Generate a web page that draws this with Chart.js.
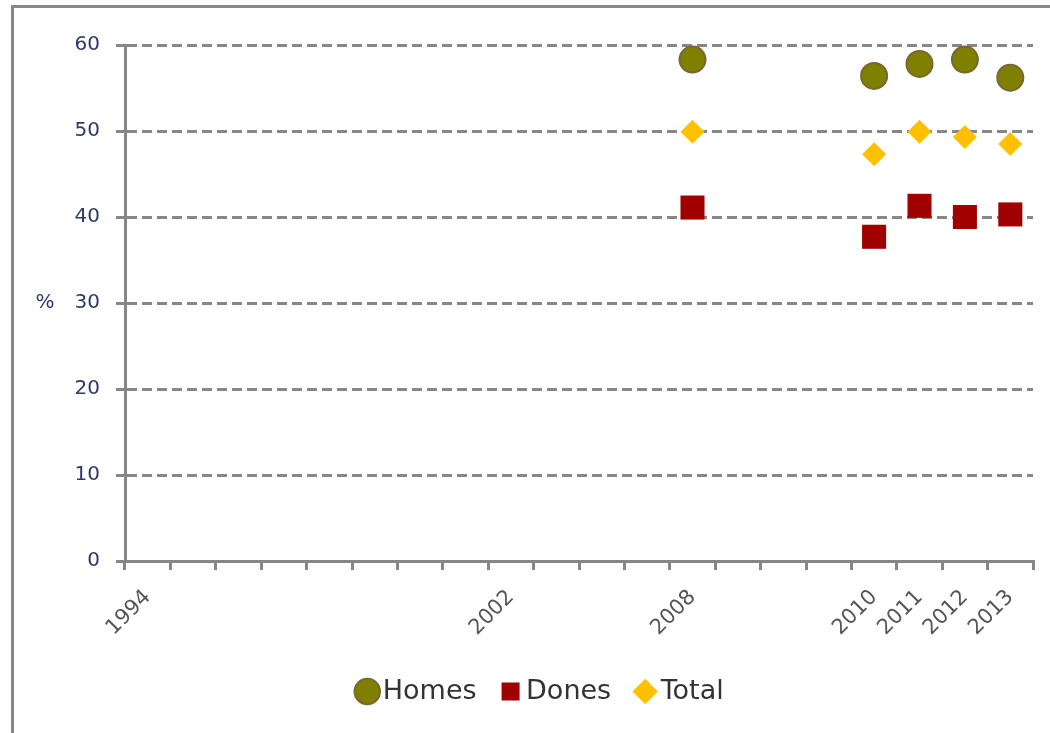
<!DOCTYPE html>
<html>
<head>
<meta charset="utf-8">
<script src="https://cdn.jsdelivr.net/npm/chart.js@4/dist/chart.umd.min.js"></script>
<style>
  html, body { margin: 0; padding: 0; background: #fff; overflow: hidden; }
  #wrap { position: relative; width: 1050px; height: 733px; }
  #frame { position: absolute; left: 11px; top: 5px; width: 1100px; height: 800px; border: 3px solid #888; box-sizing: border-box; }
  canvas { position: absolute; left: 0; top: 0; }
</style>
</head>
<body>
<div id="wrap">
  <div id="frame"></div>
  <canvas id="chart" width="1050" height="733"></canvas>
</div>
<script>
// categories (20 slots, only some labelled)
const years = ['1994', '', '', '', '', '', '', '', '2002', '', '', '', '2008', '', '', '', '2010', '2011', '2012', '2013'];

// series values (%), null where no survey
const homes = [null, null, null, null, null, null, null, null, null, null, null, null, 58.3, null, null, null, 56.4, 57.8, 58.3, 56.2];
const dones = [null, null, null, null, null, null, null, null, null, null, null, null, 41.1, null, null, null, 37.7, 41.3, 40.0, 40.3];
const total = [null, null, null, null, null, null, null, null, null, null, null, null, 49.9, null, null, null, 47.3, 49.9, 49.3, 48.5];

const yTicks = [0, 10, 20, 30, 40, 50, 60];

const gray = '#878787';
const textFont = 'DejaVu Sans';

// "%" label to the left of the value axis, horizontal
const unitLabel = {
  id: 'unitLabel',
  afterDraw(chart) {
    const { ctx, chartArea } = chart;
    ctx.save();
    ctx.font = '20px "' + textFont + '"';
    ctx.fillStyle = '#2b3a67';
    ctx.textAlign = 'center';
    ctx.textBaseline = 'middle';
    ctx.fillText('%', chartArea.left - 80, (chartArea.top + chartArea.bottom) / 2);
    ctx.restore();
  }
};

new Chart(document.getElementById('chart'), {
  type: 'line',
  data: {
    labels: years,
    datasets: [
      {
        label: 'Homes',
        data: homes,
        showLine: false,
        pointStyle: 'circle',
        pointRadius: 13,
        pointBackgroundColor: '#808000',
        pointBorderColor: '#7a6630',
        pointBorderWidth: 2,
        backgroundColor: '#808000',
        borderColor: '#7a6630'
      },
      {
        label: 'Dones',
        data: dones,
        showLine: false,
        pointStyle: 'rect',
        pointRadius: 17,
        pointBackgroundColor: '#a00000',
        pointBorderColor: '#a00000',
        pointBorderWidth: 0,
        backgroundColor: '#a00000',
        borderColor: '#a00000'
      },
      {
        label: 'Total',
        data: total,
        showLine: false,
        pointStyle: 'rectRot',
        pointRadius: 12,
        pointBackgroundColor: '#ffc000',
        pointBorderColor: '#ffc000',
        pointBorderWidth: 0,
        backgroundColor: '#ffc000',
        borderColor: '#ffc000'
      }
    ]
  },
  options: {
    responsive: false,
    animation: false,
    layout: { padding: { top: 45, right: 15, bottom: 18, left: 54 } },
    plugins: {
      tooltip: { enabled: false },
      legend: {
        position: 'bottom',
        labels: {
          usePointStyle: true,
          boxHeight: 18,
          boxWidth: 4,
          padding: 32,
          color: '#333',
          font: { family: textFont, size: 27 }
        }
      }
    },
    scales: {
      x: {
        type: 'category',
        offset: true,
        grid: { offset: true, drawOnChartArea: false, color: gray, lineWidth: 3, tickLength: 9 },
        border: { color: gray, width: 3 },
        ticks: {
          autoSkip: false,
          minRotation: 45,
          maxRotation: 45,
          color: '#555',
          padding: 15,
          font: { family: textFont, size: 21 }
        },
        afterFit(scale) { scale.height = 85; }
      },
      y: {
        min: 0,
        max: 60,
        afterBuildTicks(scale) { scale.ticks = yTicks.map(v => ({ value: v })); },
        grid: { color: gray, lineWidth: 3, tickLength: 9 },
        border: { color: gray, width: 3, dash: [10, 5] },
        ticks: {
          color: '#2b3a67',
          padding: 16,
          font: { family: textFont, size: 20 }
        },
        afterFit(scale) { scale.width = 71; }
      }
    }
  },
  plugins: [unitLabel]
});
</script>
</body>
</html>
